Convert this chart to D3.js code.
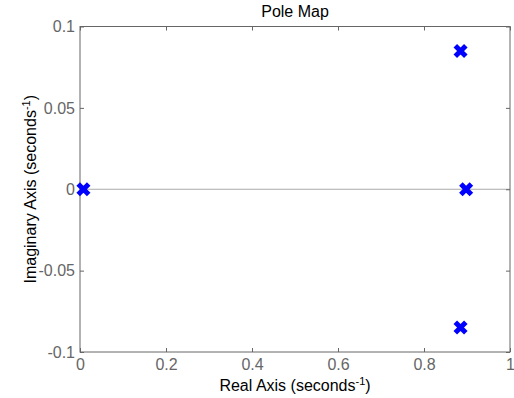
<!DOCTYPE html>
<html>
<head>
<meta charset="utf-8">
<script src="https://cdn.jsdelivr.net/npm/d3@7"></script>
<style>
  html, body { margin: 0; padding: 0; background: #fff; }
  svg { display: block; }
  text { font-family: "Liberation Sans", Arial, sans-serif; }
</style>
</head>
<body>
<script>
// Pole locations of the system (real part, imaginary part)
const poleReal = [0.885, 0.885, 0.898, 0.008];
const poleImag = [0.085, -0.085, 0, 0];

const xTicks = [0, 0.2, 0.4, 0.6, 0.8, 1];
const xTickLabels = ["0", "0.2", "0.4", "0.6", "0.8", "1"];
const yTicks = [-0.1, -0.05, 0, 0.05, 0.1];
const yTickLabels = ["-0.1", "-0.05", "0", "0.05", "0.1"];

const W = 514, H = 398;
const m = { left: 80, right: 4, top: 26.5, bottom: 46 };

const svg = d3.select("body").append("svg")
  .attr("width", W).attr("height", H);

const x = d3.scaleLinear().domain([0, 1]).range([m.left, W - m.right]);
const y = d3.scaleLinear().domain([-0.1, 0.1]).range([H - m.bottom, m.top]);

const axisColor = "#666";
const textColor = "#666";
const fs = "16px";

// zero line along the real axis
svg.append("line")
  .attr("x1", x(0)).attr("x2", x(1))
  .attr("y1", y(0)).attr("y2", y(0))
  .attr("stroke", "#aaa").attr("stroke-width", 1);

// ticks point inward on all four sides
const tl = 4;
const styleAxis = g => {
  g.select(".domain").remove();
  g.selectAll(".tick line").attr("stroke", axisColor);
  g.selectAll(".tick text").attr("fill", textColor).style("font-size", fs);
};

svg.append("g").attr("transform", `translate(0,${y(-0.1)})`)
  .call(d3.axisBottom(x).tickValues(xTicks).tickSize(-tl).tickPadding(7)
    .tickFormat((d, i) => xTickLabels[i]))
  .call(styleAxis)
  .call(g => g.selectAll(".tick text").attr("dy", "0.71em"));

svg.append("g").attr("transform", `translate(0,${y(0.1)})`)
  .call(d3.axisTop(x).tickValues(xTicks).tickSize(-tl).tickFormat(""))
  .call(styleAxis);

svg.append("g").attr("transform", `translate(${x(0)},0)`)
  .call(d3.axisLeft(y).tickValues(yTicks).tickSize(-tl).tickPadding(5)
    .tickFormat((d, i) => yTickLabels[i]))
  .call(styleAxis);

svg.append("g").attr("transform", `translate(${x(1)},0)`)
  .call(d3.axisRight(y).tickValues(yTicks).tickSize(-tl).tickFormat(""))
  .call(styleAxis);

// plot box
svg.append("rect")
  .attr("x", x(0)).attr("y", y(0.1))
  .attr("width", x(1) - x(0)).attr("height", y(-0.1) - y(0.1))
  .attr("fill", "none").attr("stroke", axisColor).attr("stroke-width", 1);

// pole markers drawn as thick crosses
const s = 3.5;
const poles = poleReal.map((r, i) => ({ re: r, im: poleImag[i] }));
svg.append("g").selectAll("path").data(poles).join("path")
  .attr("d", d => {
    const cx = x(d.re), cy = y(d.im);
    return `M${cx - s},${cy - s}L${cx + s},${cy + s}M${cx - s},${cy + s}L${cx + s},${cy - s}`;
  })
  .attr("stroke", "#0000ff").attr("stroke-width", 5)
  .attr("stroke-linecap", "square").attr("fill", "none");

// title
svg.append("text")
  .attr("x", (x(0) + x(1)) / 2).attr("y", 17)
  .attr("text-anchor", "middle").attr("fill", "#000")
  .style("font-size", fs).text("Pole Map");

// x axis label
const xl = svg.append("text")
  .attr("x", (x(0) + x(1)) / 2).attr("y", 391)
  .attr("text-anchor", "middle").attr("fill", "#000")
  .style("font-size", fs);
xl.append("tspan").text("Real Axis (seconds");
xl.append("tspan").attr("dy", "-6").style("font-size", "11px").text("-1");
xl.append("tspan").attr("dy", "6").text(")");

// y axis label
const yl = svg.append("text")
  .attr("transform", `translate(36,${(y(0.1) + y(-0.1)) / 2}) rotate(-90)`)
  .attr("text-anchor", "middle").attr("fill", "#000")
  .style("font-size", fs);
yl.append("tspan").text("Imaginary Axis (seconds");
yl.append("tspan").attr("dy", "-6").style("font-size", "11px").text("-1");
yl.append("tspan").attr("dy", "6").text(")");
</script>
</body>
</html>
